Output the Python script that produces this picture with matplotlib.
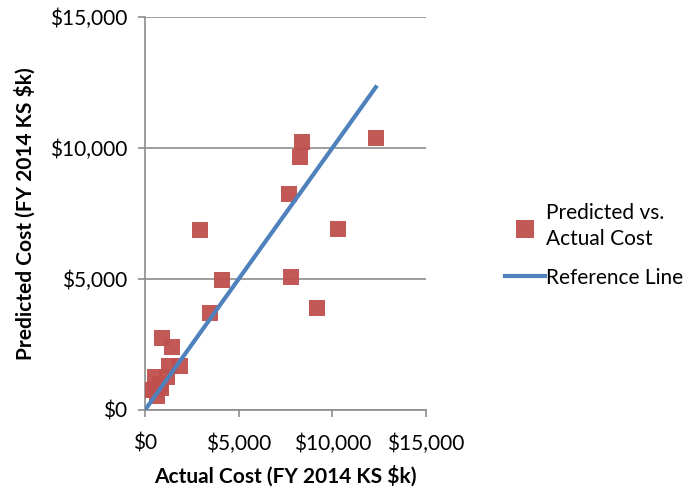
import numpy as np
import matplotlib.pyplot as plt
from matplotlib.ticker import FuncFormatter

plt.rcParams['font.family'] = ['Lato', 'DejaVu Sans']

actual = [100, 650, 550, 850, 800, 550, 1150, 1300, 1850, 900, 1450,
          3480, 2950, 4130, 7820, 7710, 8300, 8360, 9160, 10290, 12320]
predicted = [780, 550, 800, 850, 1000, 1250, 1250, 1680, 1680, 2750, 2400,
             3700, 6880, 4970, 5080, 8250, 9660, 10230, 3890, 6910, 10390]
ref_x = [min(actual), max(actual)]
ref_y = ref_x

xticks = [0, 5000, 10000, 15000]
yticks = [0, 5000, 10000, 15000]

fig = plt.figure(figsize=(6.83, 4.91), dpi=100)
ax = fig.add_axes([0.2123, 0.165, 0.4114, 0.8004])

ax.scatter(actual, predicted, marker='s', s=125, color='#C0504D', alpha=0.95,
           linewidths=0, zorder=3, label='Predicted vs.\nActual Cost')
ax.plot(ref_x, ref_y, color='#4F81BD', lw=3, zorder=4, label='Reference Line')

ax.set_xlim(0, 15000)
ax.set_ylim(0, 15000)
ax.set_xticks(xticks)
ax.set_yticks(yticks)
fmt = FuncFormatter(lambda v, p: '${:,.0f}'.format(v))
ax.xaxis.set_major_formatter(fmt)
ax.yaxis.set_major_formatter(fmt)
ax.grid(axis='y', color='#8c8c8c', lw=1.2)
ax.set_axisbelow(True)
for s in ['top', 'right']:
    ax.spines[s].set_visible(False)
for s in ['left', 'bottom']:
    ax.spines[s].set_color('#8c8c8c')
    ax.spines[s].set_linewidth(1.2)
ax.tick_params(colors='#8c8c8c', length=5, width=1.2, labelsize=15,
               labelcolor='black')
ax.tick_params(axis='x', pad=12)
ax.tick_params(axis='y', pad=8)

ax.set_xlabel('Actual Cost (FY 2014 KS $k)', fontsize=15, fontweight='bold',
              labelpad=8)
ax.set_ylabel('Predicted Cost (FY 2014 KS $k)', fontsize=15, fontweight='bold',
              labelpad=10)

leg = fig.legend(loc='center left', bbox_to_anchor=(0.712, 0.5), frameon=False,
                 fontsize=15, handlelength=1.9, handletextpad=0.05,
                 labelspacing=0.9, markerscale=1.1)
leg.get_texts()[0].set_linespacing(1.35)

fig.savefig('out.png', dpi=100)
